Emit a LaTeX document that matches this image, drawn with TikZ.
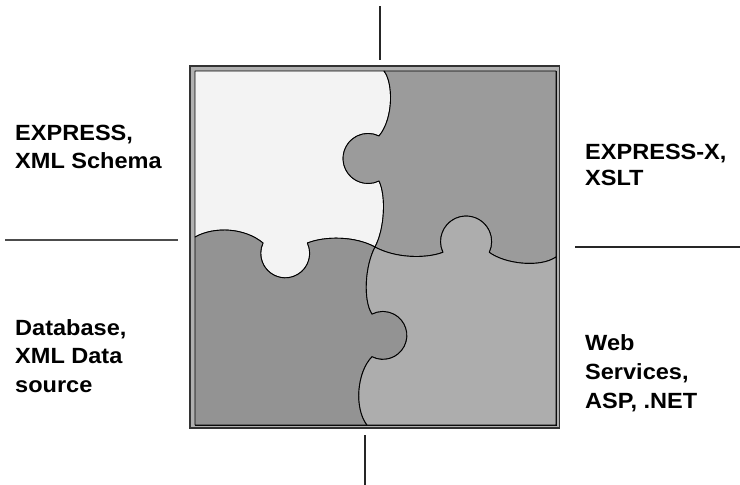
\documentclass[tikz,border=0pt]{standalone}
\usepackage{fontspec}
\setmainfont{Liberation Sans}
\newfontfamily\labelfont[FakeStretch=1.07]{Liberation Sans}
\definecolor{pieceA}{HTML}{F3F3F3}
\definecolor{pieceB}{HTML}{9B9B9B}
\definecolor{pieceC}{HTML}{939393}
\definecolor{pieceD}{HTML}{ADADAD}
\definecolor{rim}{HTML}{B0B0B0}
\begin{document}
\begin{tikzpicture}[x=1pt,y=-1pt,
  piece/.style={draw=black, line width=0.9pt, line join=round},
  guide/.style={draw=black!85, line width=1.3pt},
  sidetext/.style={anchor=base west, inner sep=0pt,
    font=\labelfont\bfseries\fontsize{22}{#1}\selectfont},
  sidetext/.default=28]
\useasboundingbox (0,0) rectangle (740,485);

% double frame around the puzzle
\draw[line width=1.2pt, draw=black!80, fill=rim] (190,66) rectangle (559.5,428);
\draw[line width=1pt] (195,71) rectangle (556,425);

% top-left piece
\path[piece, fill=pieceA]
  (195,71) -- (384,71)
  .. controls (393,82) and (394,118) .. (379,136)
  arc[start angle=-64, end angle=-296, radius=25]
  .. controls (386,195) and (385,228) .. (375,247)
  .. controls (355,236) and (325,236) .. (307.41,243)
  arc[start angle=-25, end angle=205, radius=24.5]
  .. controls (245,228) and (215,226) .. (195,237)
  -- cycle;

% top-right piece
\path[piece, fill=pieceB]
  (384,71) -- (556,71) -- (556,257)
  .. controls (540,268) and (505,264) .. (489.22,252.3)
  arc[start angle=385, end angle=155, radius=25.5]
  .. controls (425,259) and (395,258) .. (375,247)
  .. controls (385,228) and (386,195) .. (379,180.94)
  arc[start angle=-296, end angle=-64, radius=25]
  .. controls (394,118) and (393,82) .. (384,71)
  -- cycle;

% bottom-left piece
\path[piece, fill=pieceC]
  (195,237) .. controls (215,226) and (245,228) .. (263,243)
  arc[start angle=205, end angle=-25, radius=24.5]
  .. controls (325,236) and (355,236) .. (375,247)
  .. controls (365,266) and (363,300) .. (372,314)
  arc[start angle=-117, end angle=117, radius=24]
  .. controls (357,372) and (354,408) .. (367,425)
  -- (195,425) -- cycle;

% bottom-right piece
\path[piece, fill=pieceD]
  (375,247) .. controls (395,258) and (425,259) .. (443,252.3)
  arc[start angle=155, end angle=385, radius=25.5]
  .. controls (505,264) and (540,268) .. (556,257)
  -- (556,425) -- (367,425)
  .. controls (354,408) and (357,372) .. (372,356.77)
  arc[start angle=117, end angle=-117, radius=24]
  .. controls (363,300) and (365,266) .. (375,247)
  -- cycle;

% separator strokes between the four quadrants
\coordinate (topA) at (380,6);   \coordinate (topB) at (380,60);
\coordinate (botA) at (365,435); \coordinate (botB) at (365,485);
\coordinate (lefA) at (5,240);   \coordinate (lefB) at (178,240);
\coordinate (rigA) at (575,247); \coordinate (rigB) at (740,247);
\draw[guide] (topA) -- (topB);
\draw[guide] (botA) -- (botB);
\draw[guide, draw=black!70] (lefA) -- (lefB);
\draw[guide] (rigA) -- (rigB);

% quadrant captions
\node[sidetext] (tl) at (15,140)
  {\begin{tabular}[t]{@{}l@{}}EXPRESS,\\XML Schema\end{tabular}};
\node[sidetext=26] (tr) at (585,159.5)
  {\begin{tabular}[t]{@{}l@{}}EXPRESS-X,\\XSLT\end{tabular}};
\node[sidetext=28.5] (bl) at (15,335)
  {\begin{tabular}[t]{@{}l@{}}Database,\\XML Data\\source\end{tabular}};
\node[sidetext=29] (br) at (585,350)
  {\begin{tabular}[t]{@{}l@{}}Web\\Services,\\ASP, .NET\end{tabular}};
\end{tikzpicture}
\end{document}
